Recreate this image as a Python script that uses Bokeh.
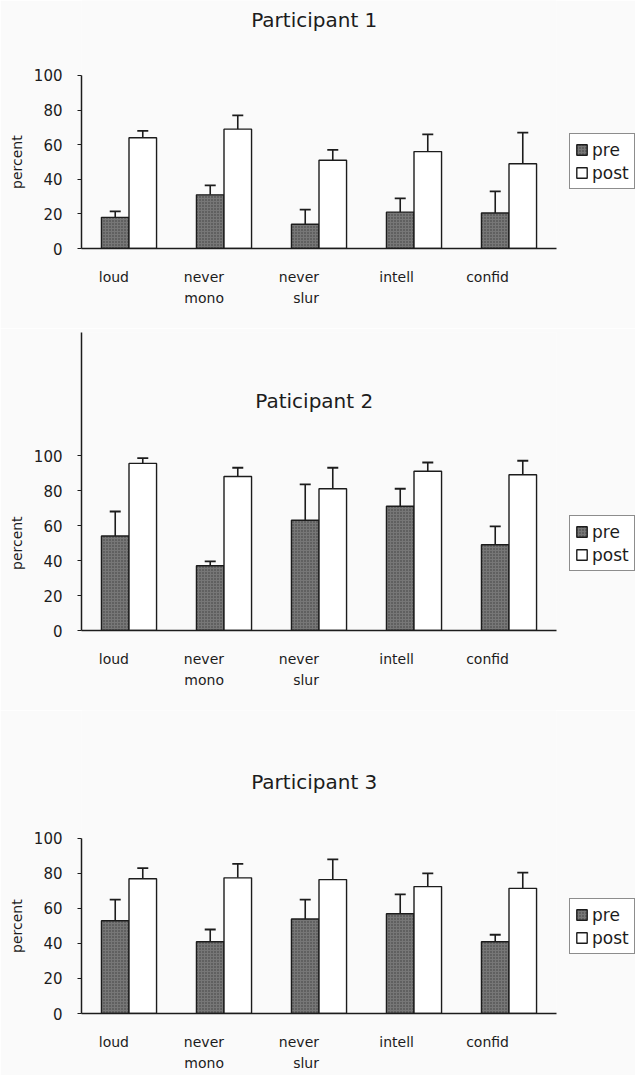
from bokeh.plotting import figure
from bokeh.layouts import column
from bokeh.models import (ColumnDataSource, FactorRange, FixedTicker, Whisker,
                          TeeHead, Legend, LegendItem, Title)
from bokeh.transform import dodge
from bokeh.core.properties import value
from bokeh.embed import file_html
from bokeh.resources import INLINE

# Rating categories shown on every panel (second line kept for one-word labels
# so that all labels share the same first-line position)
categories = ["loud\n ", "never\nmono", "never\nslur", "intell\n ", "confid\n "]
y_ticks = [0, 20, 40, 60, 80, 100]

# Participant 1 (mean percent and standard error)
p1_pre = [18, 31, 14, 21, 20.5]
p1_pre_err = [3.5, 5.5, 8.5, 8, 12.5]
p1_post = [64, 69, 51, 56, 49]
p1_post_err = [4, 8, 6, 10, 18]

# Participant 2
p2_pre = [54, 37, 63, 71, 49]
p2_pre_err = [14, 2.5, 20.5, 10, 10.5]
p2_post = [95.5, 88, 81, 91, 89]
p2_post_err = [3, 5, 12, 5, 8]

# Participant 3
p3_pre = [53, 41, 54, 57, 41]
p3_pre_err = [12, 7, 11, 11, 4]
p3_post = [77, 77.5, 76.5, 72.5, 71.5]
p3_post_err = [6, 8, 11.5, 7.5, 9]

titles = ["Participant 1", "Paticipant 2", "Participant 3"]

FONT = "DejaVu Sans"
INK = "#1c1c1c"
BG = "#fafafa"
PRE_FILL = "#777777"
CAPTION_LEN = 54  # approximate rendered length of the y caption, px


def panel(title, pre, pre_err, post, post_err, frame_h, top, y_end,
          title_y, full_axis):
    src = ColumnDataSource(dict(
        cat=categories,
        pre=pre,
        pre_top=[v + e for v, e in zip(pre, pre_err)],
        post=post,
        post_top=[v + e for v, e in zip(post, post_err)],
    ))
    p = figure(x_range=FactorRange(*categories, range_padding=0),
               y_range=(0, y_end), frame_width=475, frame_height=frame_h,
               output_backend="svg", toolbar_location=None,
               min_border_left=80, min_border_right=80,
               min_border_top=top, min_border_bottom=80,
               background_fill_color=BG, border_fill_color=BG)
    p.outline_line_color = None
    p.grid.visible = False

    w = 0.29
    r_pre = p.vbar(x=dodge("cat", -w / 2, range=p.x_range), top="pre",
                   width=w, source=src, fill_color=PRE_FILL,
                   hatch_pattern="dot", hatch_color="#2e2e2e",
                   hatch_scale=3, hatch_alpha=0.8,
                   line_color=INK, line_width=1.4)
    r_post = p.vbar(x=dodge("cat", w / 2, range=p.x_range), top="post",
                    width=w, source=src, fill_color="white",
                    line_color=INK, line_width=1.4)

    for off, low, up in ((-w / 2, "pre", "pre_top"), (w / 2, "post", "post_top")):
        wh = Whisker(base=dodge("cat", off, range=p.x_range), lower=low,
                     upper=up, source=src, dimension="height",
                     line_color=INK, line_width=1.6, lower_head=None,
                     upper_head=TeeHead(size=11, line_color=INK, line_width=1.8))
        p.add_layout(wh)

    # chart heading, drawn inside the plotting area
    p.text(x=[2.45], y=[title_y], text=[title], text_align="center",
           text_baseline="middle", text_font=value(FONT),
           text_font_size="20px", text_color=INK)

    ya = p.yaxis[0]
    ya.ticker = FixedTicker(ticks=y_ticks)
    if not full_axis:
        ya.bounds = (0, 100)
    ya.minor_tick_line_color = None
    ya.major_tick_out = 4
    ya.major_tick_in = 0
    ya.major_label_standoff = 15
    ya.axis_line_width = 1.5
    ya.axis_line_color = INK
    ya.major_tick_line_color = INK
    ya.major_label_text_font = FONT
    ya.major_label_text_font_size = "15px"
    ya.major_label_text_color = INK

    # y-axis caption, raised from the frame bottom so it centres on 0-100
    px_per_unit = frame_h / y_end
    lift = 50 * px_per_unit - CAPTION_LEN / 2
    p.add_layout(Title(text="percent", align="left", offset=lift,
                       text_font=FONT, text_font_size="14px",
                       text_font_style="normal", text_color=INK,
                       standoff=12), "left")

    xa = p.xaxis[0]
    xa.axis_line_width = 1.5
    xa.axis_line_color = INK
    xa.major_tick_line_color = None
    xa.major_label_standoff = 33
    xa.major_label_text_font = FONT
    xa.major_label_text_font_size = "14px"
    xa.major_label_text_color = INK
    xa.major_label_text_line_height = 1.3
    xa.major_label_orientation = 0

    legend = Legend(items=[LegendItem(label="pre", renderers=[r_pre]),
                           LegendItem(label="post", renderers=[r_post])],
                    location=(13, 59), orientation="vertical",
                    border_line_color=INK, border_line_width=1.2,
                    background_fill_color="white",
                    label_text_font=FONT, label_text_font_size="17px",
                    label_text_color=INK, glyph_width=13, glyph_height=13,
                    label_standoff=4, label_height=21, spacing=2,
                    padding=5, margin=0)
    p.add_layout(legend, "right")
    return p


f1 = panel(titles[0], p1_pre, p1_pre_err, p1_post, p1_post_err,
           frame_h=248, top=0, y_end=143.35, title_y=132, full_axis=False)
f2 = panel(titles[1], p2_pre, p2_pre_err, p2_post, p2_post_err,
           frame_h=298, top=4, y_end=170.3, title_y=131.4, full_axis=True)
f3 = panel(titles[2], p3_pre, p3_pre_err, p3_post, p3_post_err,
           frame_h=303, top=0, y_end=173.1, title_y=132, full_axis=False)

layout = column(f1, f2, f3, spacing=0)
open("out.html", "w").write(file_html(layout, INLINE))
